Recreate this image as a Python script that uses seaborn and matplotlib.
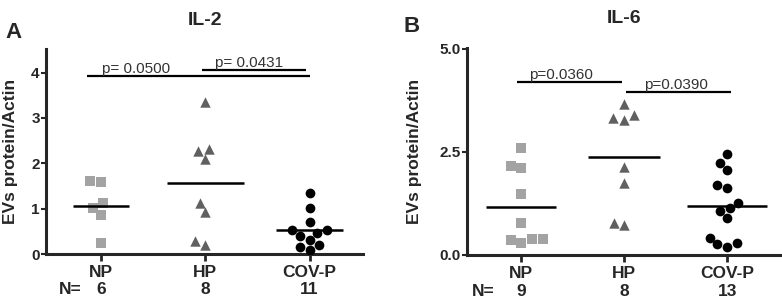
import numpy as np
import pandas as pd
import seaborn as sns
import matplotlib.pyplot as plt
from matplotlib.transforms import blended_transform_factory

groups = ["NP", "HP", "COV-P"]

# IL-2 (panel A)
il2_np = [1.59, 1.61, 1.01, 1.12, 0.85, 0.24]
il2_hp = [3.36, 2.32, 2.27, 2.10, 1.12, 0.92, 0.21, 0.29]
il2_cov = [1.34, 1.02, 0.71, 0.53, 0.53, 0.46, 0.40, 0.20, 0.32, 0.10, 0.15]

# IL-6 (panel B)
il6_np = [2.60, 2.16, 2.11, 1.47, 0.78, 0.39, 0.30, 0.36, 0.39]
il6_hp = [3.65, 3.32, 3.28, 3.39, 2.14, 1.75, 0.72, 0.78]
il6_cov = [2.44, 2.23, 2.07, 1.69, 1.63, 1.27, 1.06, 1.13, 0.89, 0.42, 0.28, 0.20, 0.26]

markers = ["s", "^", "o"]
colors = ["#a3a3a3", "#606060", "#000000"]
sizes = [7.5, 7.5, 7.0]

sns.set_style("ticks")
plt.rcParams["font.family"] = ["Liberation Sans", "DejaVu Sans"]

fig = plt.figure(figsize=(7.82, 3.01), dpi=100)
axA = fig.add_axes([0.0588, 0.156, 0.405, 0.681])
axB = fig.add_axes([0.597, 0.153, 0.400, 0.688])


def draw_panel(ax, values, ylim, yticks, yticklabels, title, ns, sig, label_x, n_x, half_w):
    df = pd.DataFrame({
        "group": np.repeat(groups, [len(v) for v in values]),
        "value": np.concatenate(values),
    })
    for i, g in enumerate(groups):
        sns.swarmplot(data=df[df["group"] == g], x="group", y="value", order=groups,
                      marker=markers[i], color=colors[i], size=sizes[i], linewidth=0, ax=ax)
        # mean line
        m = df.loc[df["group"] == g, "value"].mean()
        ax.hlines(m, i - half_w[i], i + half_w[i], color="black", lw=1.8, zorder=3)

    ax.set_xlim(-0.53, 2.51)
    ax.set_ylim(*ylim)
    ax.set_yticks(yticks)
    ax.set_yticklabels(yticklabels)
    ax.set_xlabel("")
    ax.set_ylabel("EVs protein/Actin", fontsize=12.5, fontweight="bold")
    ax.yaxis.set_label_coords(label_x, 0.5)
    sns.despine(ax=ax)
    for s in ["left", "bottom"]:
        ax.spines[s].set_linewidth(2.2)
    ax.tick_params(axis="x", width=2, length=5, direction="out", labelsize=12.5, pad=3)
    ax.tick_params(axis="y", width=1.5, length=3.5, direction="out", labelsize=11, pad=1)
    for t in ax.get_xticklabels() + ax.get_yticklabels():
        t.set_fontweight("bold")

    # significance bars
    for x0, x1, y, txt, tx, ty in sig:
        ax.hlines(y, x0, x1, color="black", lw=1.6)
        ax.text(tx, ty, txt, ha="center", va="bottom", fontsize=11, color="#333333")

    tr = blended_transform_factory(ax.transData, ax.transAxes)
    ax.text(1, 1.14, title, transform=tr, ha="center", va="center",
            fontsize=14, fontweight="bold")
    ax.text(n_x, -0.175, "N=", transform=tr, ha="center", va="center",
            fontsize=12.5, fontweight="bold")
    for i, n in enumerate(ns):
        ax.text(i, -0.175, str(n), transform=tr, ha="center", va="center",
                fontsize=12.5, fontweight="bold")


draw_panel(axA, [il2_np, il2_hp, il2_cov], (0, 4.52), [0, 1, 2, 3, 4],
           ["0", "1", "2", "3", "4"], "IL-2", [6, 8, 11],
           [(-0.14, 2.0, 3.93, "p= 0.0500", 0.33, 3.93),
            (0.97, 1.97, 4.06, "p= 0.0431", 1.42, 4.06)],
           -0.088, -0.3, [0.27, 0.37, 0.32])

draw_panel(axB, [il6_np, il6_hp, il6_cov], (0, 5.02), [0, 2.5, 5.0],
           ["0.0", "2.5", "5.0"], "IL-6", [9, 8, 13],
           [(-0.04, 0.98, 4.20, "p=0.0360", 0.38, 4.20),
            (1.02, 2.04, 3.95, "p=0.0390", 1.5, 3.95)],
           -0.144, -0.37, [0.34, 0.35, 0.39])

fig.text(14 / 782, 1 - 32 / 301, "A", fontsize=16, fontweight="bold", ha="center", va="center")
fig.text(412 / 782, 1 - 26 / 301, "B", fontsize=16, fontweight="bold", ha="center", va="center")

fig.savefig("out.png", dpi=100)
